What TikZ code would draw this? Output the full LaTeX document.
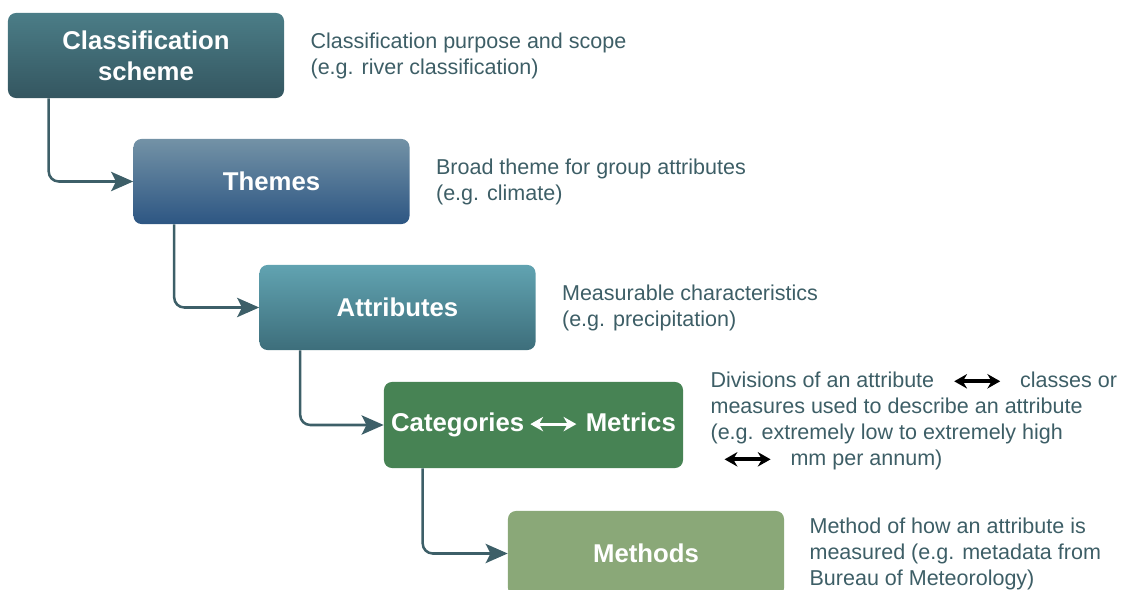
\documentclass[tikz,border=0pt]{standalone}
\usepackage{fontspec}
\setmainfont{Liberation Sans}
\usetikzlibrary{positioning,arrows.meta}
\definecolor{schemetop}{HTML}{4B7D87}
\definecolor{schemebot}{HTML}{345660}
\definecolor{themetop}{HTML}{7392A6}
\definecolor{themebot}{HTML}{2D5683}
\definecolor{attrtop}{HTML}{61A3B1}
\definecolor{attrbot}{HTML}{3D6E7B}
\definecolor{catgreen}{HTML}{478354}
\definecolor{methgreen}{HTML}{8AA878}
\definecolor{desctext}{HTML}{3D5E66}
\definecolor{linkcol}{HTML}{3D5F68}
\newcommand{\dblarrow}[2]{\tikz[baseline=-0.55ex]\draw[{Stealth[length=0.32cm,width=0.36cm]}-{Stealth[length=0.32cm,width=0.36cm]},line width=#2,draw=#1] (0,0)--(1.15cm,0);}

\begin{document}
\begin{tikzpicture}[x=0.025cm,y=-0.025cm]
	\tikzstyle{level}=[rectangle, rounded corners=0.2cm, text=white, align=center, minimum width=6.9cm, minimum height=2.125cm, font=\bfseries\fontsize{18.3}{22}\selectfont]
	\tikzstyle{desc}=[inner sep=0pt, align=left, text=desctext, font=\fontsize{15.3}{18.5}\selectfont, node distance=0.65cm]
	\tikzstyle{connect}=[-{Stealth[length=0.55cm,width=0.48cm,inset=0.12cm]}, line width=1.8pt, draw=linkcol, rounded corners=0.25cm]
	\useasboundingbox (0,0) rectangle (1121,590);
	\clip (0,0) rectangle (1121,590);
	% the five levels of the scheme
	\node[level, top color=schemetop, bottom color=schemebot] (scheme) at (146,55.5) {Classification\\scheme};
	\node[level, top color=themetop, bottom color=themebot] (themes) at (271.5,181.5) {Themes};
	\node[level, top color=attrtop, bottom color=attrbot] (attributes) at (397.5,307.5) {Attributes};
	\node[level, fill=catgreen, minimum width=7.475cm, minimum height=2.15cm] (categories) at (533.5,425) {Categories\hspace{0.12cm}\dblarrow{white}{2pt}\hspace{0.2cm}Metrics};
	\node[level, fill=methgreen] (methods) at (646,553.5) {Methods};
	% descriptions
	\node[desc, right=of scheme] (schemetxt) {Classification purpose and scope\\(e.g. river classification)};
	\node[desc, right=of themes] (themestxt) {Broad theme for group attributes\\(e.g. climate)};
	\node[desc, right=of attributes] (attributestxt) {Measurable characteristics\\(e.g. precipitation)};
	\node[desc, right=0.675cm of categories, yshift=0.1cm] (categoriestxt) {Divisions of an attribute\hspace{0.45cm}\dblarrow{black}{2.8pt}\hspace{0.45cm}classes or\\measures used to describe an attribute\\(e.g. extremely low to extremely high\\\hspace*{0.3cm}\dblarrow{black}{2.8pt}\hspace{0.45cm}mm per annum)};
	\node[desc, right=0.625cm of methods] (methodstxt) {Method of how an attribute is\\measured (e.g. metadata from\\Bureau of Meteorology)};
	% links
	\draw[connect] ([xshift=1.025cm]scheme.south west) |- (themes.west);
	\draw[connect] ([xshift=1.025cm]themes.south west) |- (attributes.west);
	\draw[connect] ([xshift=1.025cm]attributes.south west) |- (categories.west);
	\draw[connect] ([xshift=0.975cm]categories.south west) |- (methods.west);
\end{tikzpicture}
\end{document}
